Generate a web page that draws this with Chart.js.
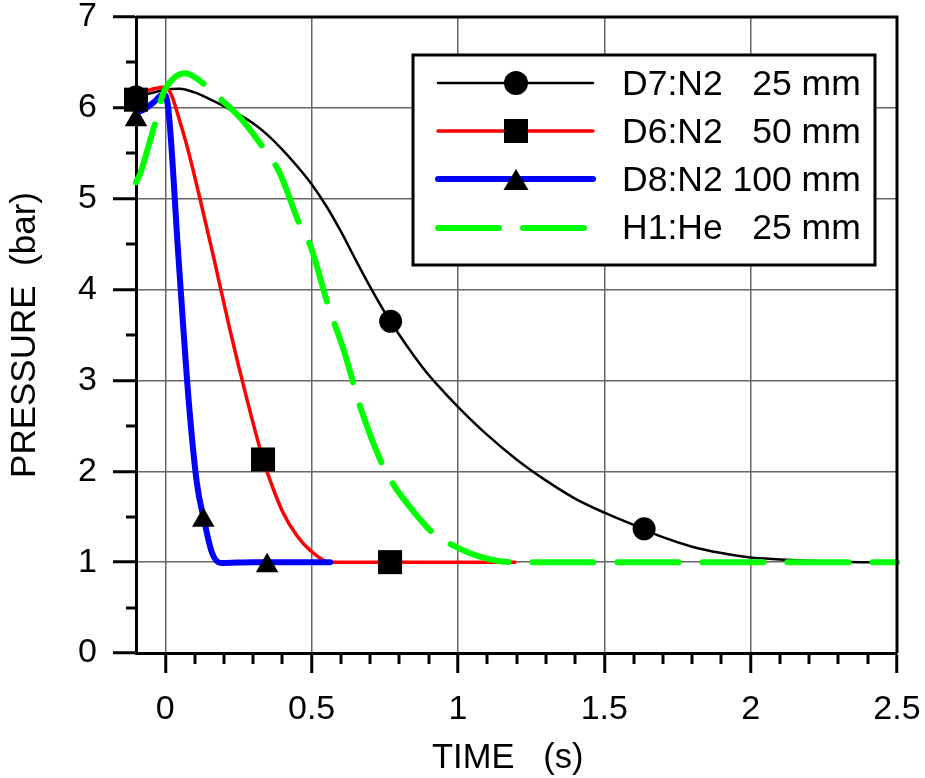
<!DOCTYPE html>
<html><head><meta charset="utf-8">
<script src="https://cdn.jsdelivr.net/npm/chart.js@4.4.1/dist/chart.umd.min.js"></script>
<style>html,body{margin:0;padding:0;background:#fff;}canvas{display:block;}</style>
</head><body>
<canvas id="c" width="925" height="778"></canvas>
<script>
// ---- data ----
const xTickValues = [0, 0.5, 1, 1.5, 2, 2.5];
const yTickValues = [0, 1, 2, 3, 4, 5, 6, 7];
const xMinorTicks = [0.1,0.2,0.3,0.4,0.6,0.7,0.8,0.9,1.1,1.2,1.3,1.4,1.6,1.7,1.8,1.9,2.1,2.2,2.3,2.4];
const yMinorTicks = [0.5,1.5,2.5,3.5,4.5,5.5,6.5];
const seriesNames = ['D7:N2   25 mm', 'D6:N2   50 mm', 'D8:N2 100 mm', 'H1:He   25 mm'];
const xAxisTitle = 'TIME   (s)';
const yAxisTitle = 'PRESSURE  (bar)';

const d7Time     = [-0.1, -0.05, 0, 0.05, 0.1, 0.15, 0.2, 0.25, 0.3, 0.35, 0.4, 0.45, 0.5, 0.55, 0.6, 0.65, 0.7, 0.75, 0.8, 0.85, 0.9, 0.95, 1.0, 1.1, 1.2, 1.3, 1.4, 1.5, 1.6, 1.7, 1.8, 1.9, 2.0, 2.1, 2.2, 2.3, 2.4, 2.47];
const d7Pressure = [6.12, 6.16, 6.2, 6.21, 6.17, 6.1, 6.02, 5.93, 5.83, 5.7, 5.54, 5.36, 5.16, 4.92, 4.64, 4.33, 4.03, 3.75, 3.5, 3.27, 3.06, 2.88, 2.71, 2.4, 2.13, 1.9, 1.7, 1.545, 1.41, 1.275, 1.17, 1.1, 1.05, 1.03, 1.015, 1.005, 1.0, 1.0];

const d6Time     = [-0.1, -0.05, 0, 0.02, 0.05, 0.075, 0.12, 0.165, 0.22, 0.28, 0.335, 0.348, 0.403, 0.45, 0.495, 0.563, 0.77, 1.0, 1.195];
const d6Pressure = [6.15, 6.2, 6.23, 6.15, 5.85, 5.57, 4.98, 4.36, 3.57, 2.78, 2.12, 1.99, 1.54, 1.29, 1.13, 1.0, 1.0, 1.0, 1.0];

const d8Time     = [-0.1, -0.08, -0.04, -0.007, 0.01, 0.045, 0.08, 0.108, 0.13, 0.16, 0.19, 0.3, 0.45, 0.563];
const d8Pressure = [5.95, 5.97, 6.06, 6.15, 6.0, 4.36, 2.78, 1.87, 1.5, 1.1, 0.99, 1.0, 1.0, 1.0];

const h1Time     = [-0.1, -0.085, -0.06, -0.034, -0.007, 0.027, 0.068, 0.109, 0.143, 0.195, 0.256, 0.335, 0.39, 0.46, 0.495, 0.556, 0.61, 0.666, 0.745, 0.78, 0.85, 0.915, 0.98, 1.075, 1.185, 1.5, 2.0, 2.5];
const h1Pressure = [5.18, 5.28, 5.55, 5.84, 6.16, 6.32, 6.38, 6.32, 6.23, 6.08, 5.89, 5.56, 5.29, 4.71, 4.49, 3.83, 3.33, 2.71, 2.05, 1.85, 1.55, 1.32, 1.19, 1.06, 1.0, 1.0, 1.0, 1.0];

const d7MarkTime = [-0.1, 0.77, 1.636];
const d7MarkPressure = [6.12, 3.65, 1.367];
const d6MarkTime = [-0.1, 0.334, 0.768];
const d6MarkPressure = [6.09, 2.13, 1.0];
const d8MarkTime = [-0.1, 0.13, 0.348];
const d8MarkPressure = [5.87, 1.46, 0.96];

// ---- styling ----
const FONT = '"Liberation Sans", Arial, Helvetica, sans-serif';
const colors = ['#000000', '#ff0000', '#0000ff', '#00ff00'];
const widths = [2.5, 3.5, 6, 6];
const pts = (xs, ys) => xs.map((x, i) => ({ x: x, y: ys[i] }));

const lineDs = (i, xs, ys, order, extra) => Object.assign({
  label: seriesNames[i], data: pts(xs, ys), borderColor: colors[i], backgroundColor: colors[i],
  borderWidth: widths[i], pointRadius: 0, showLine: true, fill: false,
  cubicInterpolationMode: 'monotone', borderCapStyle: 'round', borderJoinStyle: 'round',
  order: order, clip: false
}, extra || {});

const markDs = (xs, ys, style, r) => ({
  label: '', data: pts(xs, ys), showLine: false, pointStyle: style, pointRadius: r,
  backgroundColor: '#000', borderColor: '#000', borderWidth: 0, order: 0, clip: false
});

const framePlugin = {
  id: 'frame',
  beforeDraw(chart) {
    const c = chart.ctx;
    c.save(); c.fillStyle = '#fff'; c.fillRect(0, 0, chart.width, chart.height); c.restore();
  },
  afterDraw(chart) {
    const c = chart.ctx, a = chart.chartArea, xs = chart.scales.x, ys = chart.scales.y;
    c.save();
    c.strokeStyle = '#000'; c.lineCap = 'butt';
    c.lineWidth = 3;
    c.beginPath(); c.moveTo(a.left, a.top); c.lineTo(a.right + 1.5, a.top);
    c.moveTo(a.right, a.top); c.lineTo(a.right, a.bottom); c.stroke();
    c.beginPath();
    xMinorTicks.forEach(v => { const px = Math.round(xs.getPixelForValue(v)); c.moveTo(px, a.bottom); c.lineTo(px, a.bottom + 11); });
    yMinorTicks.forEach(v => { const py = Math.round(ys.getPixelForValue(v)); c.moveTo(a.left, py); c.lineTo(a.left - 10, py); });
    c.stroke();
    c.fillStyle = '#000';
    c.font = '34.5px ' + FONT;
    c.textAlign = 'left'; c.textBaseline = 'alphabetic';
    c.fillText(xAxisTitle, 432, 768);
    c.save();
    c.translate(35, (a.top + a.bottom) / 2);
    c.rotate(-Math.PI / 2);
    c.textAlign = 'center';
    c.font = '35px ' + FONT;
    c.fillText(yAxisTitle, 0, 0);
    c.restore();
    const bx = 413, by = 55, bw = 462, bh = 210;
    c.fillStyle = '#fff'; c.fillRect(bx, by, bw, bh);
    c.lineWidth = 3; c.strokeStyle = '#000'; c.strokeRect(bx, by, bw, bh);
    const rowsY = [83, 131, 179, 228];
    const lx1 = 438, lx2 = 593, mx = 516;
    for (let i = 0; i < 4; i++) {
      const y = rowsY[i];
      c.save();
      c.strokeStyle = colors[i]; c.lineWidth = widths[i]; c.lineCap = 'round';
      if (i === 3) c.setLineDash([61, 24]);
      c.beginPath(); c.moveTo(lx1, y); c.lineTo(lx2, y); c.stroke();
      c.restore();
      c.fillStyle = '#000';
      c.beginPath();
      if (i === 0) { c.arc(mx, y, 12, 0, Math.PI * 2); }
      else if (i === 1) { c.rect(mx - 12, y - 12, 24, 24); }
      else if (i === 2) { c.moveTo(mx, y - 10); c.lineTo(mx + 12.5, y + 11); c.lineTo(mx - 12.5, y + 11); c.closePath(); }
      c.fill();
      c.font = '35.5px ' + FONT;
      c.textAlign = 'left'; c.textBaseline = 'alphabetic';
      c.fillText(seriesNames[i], 622, [95, 143, 191, 239][i]);
    }
    c.restore();
  }
};

new Chart(document.getElementById('c'), {
  type: 'scatter',
  data: {
    datasets: [
      markDs(d6MarkTime, d6MarkPressure, 'rect', 17),
      markDs(d8MarkTime, d8MarkPressure, 'triangle', 13),
      markDs(d7MarkTime, d7MarkPressure, 'circle', 11.5),
      lineDs(3, h1Time, h1Pressure, 1, { borderDash: [61, 24] }),
      lineDs(2, d8Time, d8Pressure, 2),
      lineDs(1, d6Time, d6Pressure, 3),
      lineDs(0, d7Time, d7Pressure, 4)
    ]
  },
  options: {
    responsive: false, animation: false, devicePixelRatio: 1,
    layout: { padding: { top: 17, right: 28, left: 0, bottom: 0 } },
    plugins: { legend: { display: false }, tooltip: { enabled: false } },
    scales: {
      x: {
        type: 'linear', min: -0.1, max: 2.5,
        afterBuildTicks: s => { s.ticks = xTickValues.map(v => ({ value: v })); },
        afterFit: s => { s.height = 125; s.paddingLeft = 0; s.paddingRight = 0; },
        ticks: { font: { family: FONT, size: 34 }, color: '#000', padding: 16, maxRotation: 0, autoSkip: false,
                 callback: v => String(v) },
        grid: { color: '#666', lineWidth: 1.5, tickColor: '#000', tickWidth: 3, tickLength: 20 },
        border: { color: '#000', width: 3 }
      },
      y: {
        type: 'linear', min: 0, max: 7,
        afterBuildTicks: s => { s.ticks = yTickValues.map(v => ({ value: v })); },
        afterFit: s => { s.width = 136; s.paddingTop = 0; s.paddingBottom = 0; },
        ticks: { font: { family: FONT, size: 34 }, color: '#000', padding: 16, autoSkip: false,
                 callback: v => String(v) },
        grid: { color: '#666', lineWidth: 1.5, tickColor: '#000', tickWidth: 3, tickLength: 23 },
        border: { color: '#000', width: 3 }
      }
    }
  },
  plugins: [framePlugin]
});
</script>
</body></html>
